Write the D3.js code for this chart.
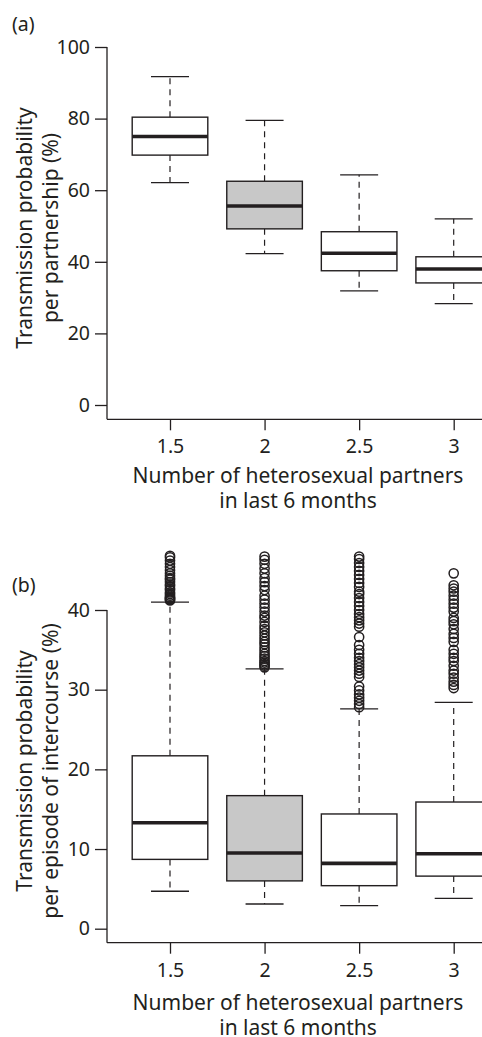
<!DOCTYPE html>
<html><head><meta charset="utf-8">
<script src="https://cdn.jsdelivr.net/npm/d3@7"></script>
<style>html,body{margin:0;padding:0;background:#fff;overflow:hidden}</style>
</head><body>
<script>
// ---- data ----
const categories = [1.5, 2, 2.5, 3];
const xTickLabels = ["1.5", "2", "2.5", "3"];
const fillsA = ["#ffffff", "#c8c8c8", "#ffffff", "#ffffff"];

// Panel (a): transmission probability per partnership (%)
const aWhiskerLow = [62.1, 42.3, 31.9, 28.3];
const aQ1         = [69.8, 49.2, 37.5, 34.1];
const aMedian     = [75.0, 55.6, 42.4, 38.0];
const aQ3         = [80.4, 62.5, 48.4, 41.4];
const aWhiskerHigh= [91.7, 79.5, 64.3, 52.0];
const aYTicks = [0, 20, 40, 60, 80, 100];

// Panel (b): transmission probability per episode of intercourse (%)
const bWhiskerLow = [4.7, 3.1, 2.9, 3.8];
const bQ1         = [8.7, 6.0, 5.4, 6.6];
const bMedian     = [13.3, 9.5, 8.2, 9.4];
const bQ3         = [21.7, 16.7, 14.4, 15.9];
const bWhiskerHigh= [41.0, 32.6, 27.6, 28.4];
const bYTicks = [0, 10, 20, 30, 40];
const bOutliers15 = [41.2,41.3,41.4,41.5,41.6,41.8,42.0,42.2,42.5,42.7,43.0,43.2,43.5,43.8,44.0,44.3,44.6,45.0,45.4,45.8,46.2,46.6,46.8];
const bOutliers2  = [32.8,33.0,33.2,33.4,33.6,33.9,34.2,34.5,34.9,35.3,35.7,36.0,36.4,36.8,37.2,37.6,38.0,38.5,39.0,39.3,39.8,40.3,40.8,41.3,41.8,42.5,43.0,43.5,44.0,44.6,45.2,45.8,46.3,46.7];
const bOutliers25 = [27.8,28.2,28.6,29.0,29.4,29.9,30.4,31.6,32.0,32.4,32.8,33.2,33.6,34.0,34.5,35.0,35.6,36.6,37.9,38.3,38.7,39.1,39.5,40.0,40.5,41.0,41.5,42.0,42.3,42.9,43.4,43.9,44.4,44.9,45.4,45.9,46.4,46.7];
const bOutliers3  = [30.2,30.6,31.0,31.5,32.0,32.4,33.0,33.6,34.0,34.5,35.0,36.0,36.5,37.0,37.6,38.2,38.6,39.0,39.8,40.3,40.8,41.3,41.8,42.3,42.7,43.1,44.6];
const bOutliers = [bOutliers15, bOutliers2, bOutliers25, bOutliers3];

const xLabelLines = ["Number of heterosexual partners", "in last 6 months"];
const aYLabelLines = ["Transmission probability", "per partnership (%)"];
const bYLabelLines = ["Transmission probability", "per episode of intercourse (%)"];

// ---- drawing ----
const W = 482, H = 1037;
const FONT = "'Noto Sans', 'Open Sans', sans-serif";
const INK = "#231f20";
const svg = d3.select("body").append("svg").attr("width", W).attr("height", H)
  .style("font-family", FONT);

const x = d3.scaleLinear().domain([1.5, 3]).range([170, 453.7]);
const boxHalf = 37.8, capHalf = 19;
const axisX = 107;
const TICKFS = "19.5px", TITLEFS = "21px";

function panel(opt) {
  const g = svg.append("g");
  const y = d3.scaleLinear().domain([opt.ticks[0], opt.ticks[opt.ticks.length-1]]).range(opt.yRange);
  // y axis
  const yAxis = d3.axisLeft(y).tickValues(opt.ticks).tickSize(12).tickPadding(5).tickSizeOuter(0);
  const ya = g.append("g").attr("transform", `translate(${axisX},0)`).call(yAxis);
  ya.select(".domain").remove();
  ya.append("line").attr("x1", 0).attr("x2", 0).attr("y1", y(opt.ticks[opt.ticks.length-1])).attr("y2", opt.bottom)
    .attr("stroke", INK).attr("stroke-width", 1.3);
  // x axis
  const xAxis = d3.axisBottom(x).tickValues(categories).tickFormat((d,i) => xTickLabels[i]).tickSize(11).tickPadding(9).tickSizeOuter(0);
  const xa = g.append("g").attr("transform", `translate(0,${opt.bottom})`).call(xAxis);
  xa.select(".domain").remove();
  xa.append("line").attr("x1", axisX).attr("x2", W + 20).attr("y1", 0).attr("y2", 0)
    .attr("stroke", INK).attr("stroke-width", 1.3);
  [ya, xa].forEach(a => {
    a.selectAll(".tick line").attr("stroke", INK).attr("stroke-width", 1.3);
    a.selectAll(".tick text").attr("fill", INK).style("font-family", FONT).style("font-size", TICKFS);
  });

  // boxes
  categories.forEach((c, i) => {
    const cx = x(c);
    const bg = g.append("g");
    bg.append("line").attr("x1", cx).attr("x2", cx).attr("y1", y(opt.q3[i])).attr("y2", y(opt.hi[i]))
      .attr("stroke", INK).attr("stroke-width", 1.2).attr("stroke-dasharray", "6,5");
    bg.append("line").attr("x1", cx).attr("x2", cx).attr("y1", y(opt.q1[i])).attr("y2", y(opt.lo[i]))
      .attr("stroke", INK).attr("stroke-width", 1.2).attr("stroke-dasharray", "6,5");
    [opt.hi[i], opt.lo[i]].forEach(v => {
      bg.append("line").attr("x1", cx - capHalf).attr("x2", cx + capHalf).attr("y1", y(v)).attr("y2", y(v))
        .attr("stroke", INK).attr("stroke-width", 1.3);
    });
    bg.append("rect").attr("x", cx - boxHalf).attr("width", 2*boxHalf)
      .attr("y", y(opt.q3[i])).attr("height", y(opt.q1[i]) - y(opt.q3[i]))
      .attr("fill", fillsA[i]).attr("stroke", INK).attr("stroke-width", 1.4);
    bg.append("line").attr("x1", cx - boxHalf).attr("x2", cx + boxHalf).attr("y1", y(opt.med[i])).attr("y2", y(opt.med[i]))
      .attr("stroke", INK).attr("stroke-width", 3.6);
    if (opt.out) {
      bg.selectAll("circle.o").data(opt.out[i]).enter().append("circle")
        .attr("cx", cx).attr("cy", d => y(d)).attr("r", 4.6)
        .attr("fill", "none").attr("stroke", INK).attr("stroke-width", 1.5);
    }
  });

  // panel letter
  g.append("text").attr("x", 12).attr("y", opt.letterY).text(opt.letter)
    .attr("fill", INK).style("font-size", TICKFS);
  // y label
  const yl = g.append("text").attr("transform", `translate(0,${opt.yLabelMid}) rotate(-90)`)
    .attr("text-anchor", "middle").attr("fill", INK).style("font-size", TITLEFS);
  opt.yLabel.forEach((t, k) => yl.append("tspan").attr("x", 0).attr("y", [32, 58][k]).text(t));
  // x label
  xLabelLines.forEach((t, k) => {
    g.append("text").attr("x", 298).attr("y", opt.xLabelY + k * 25).attr("text-anchor", "middle")
      .attr("fill", INK).style("font-size", TITLEFS).text(t);
  });
}

panel({
  ticks: aYTicks, yRange: [405, 47], bottom: 419.3,
  q1: aQ1, q3: aQ3, med: aMedian, lo: aWhiskerLow, hi: aWhiskerHigh,
  letter: "(a)", letterY: 31, yLabel: aYLabelLines, yLabelMid: 228, xLabelY: 483
});
panel({
  ticks: bYTicks, yRange: [928.7, 610], bottom: 942.7,
  q1: bQ1, q3: bQ3, med: bMedian, lo: bWhiskerLow, hi: bWhiskerHigh, out: bOutliers,
  letter: "(b)", letterY: 592, yLabel: bYLabelLines, yLabelMid: 771, xLabelY: 1010
});
</script>
</body></html>
